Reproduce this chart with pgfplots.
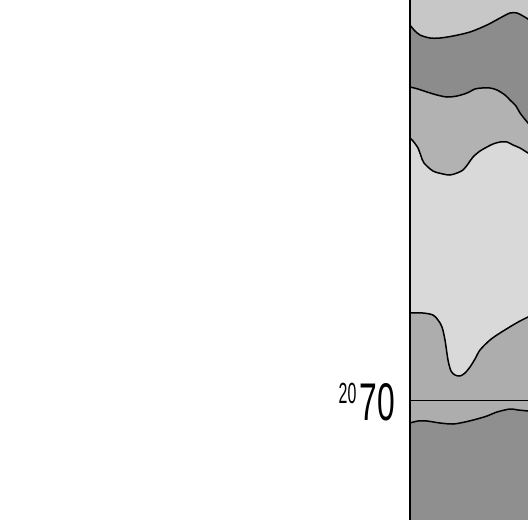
\documentclass[border=0pt]{standalone}
\usepackage{pgfplots}
\pgfplotsset{compat=1.18}
\usepackage{graphicx}
\usepackage{fontspec}
\setmainfont{Liberation Sans}
\definecolor{gTop}{gray}{0.78}
\definecolor{gDark}{gray}{0.55}
\definecolor{gMid}{gray}{0.70}
\definecolor{gLight}{gray}{0.85}
\definecolor{gMid2}{gray}{0.68}
\definecolor{gBot}{gray}{0.56}
\begin{document}
\begin{tikzpicture}
\begin{axis}[
  scale only axis, width=528pt, height=520pt,
  xmin=0, xmax=528, ymin=0, ymax=520, y dir=reverse,
  axis line style={draw=none}, ticks=none,
]
% bottom layer: whole panel
\addplot[fill=gBot, draw=none] coordinates {(410,520) (533,520)} \closedcycle;
% above curve 5
\addplot[fill=gMid2, draw=none, smooth] coordinates {
(410,423)(418,421)(427,421)(440,423)(453,424)(465,422)(477,419)(487,416)(497,412)(510,409)(518,410)(528,411)(533,412)} \closedcycle;
% above curve 4
\addplot[fill=gLight, draw=none, smooth] coordinates {
(410,313)(423,313)(433,315)(438,320)(442,327)(445,340)(448,360)(451,371)(455,375)(460,376)(465,373)(470,367)(475,359)(480,350)(490,340)(500,333)(513,325)(520,321)(528,317)(533,314)} \closedcycle;
% above curve 3
\addplot[fill=gMid, draw=none, smooth] coordinates {
(410,138)(413,141)(418,148)(421,156)(424,163)(433,171)(443,174)(450,175)(457,173)(463,170)(468,164)(473,157)(480,151)(487,147)(493,144)(500,142)(507,142)(513,145)(520,148)(528,153)(533,156)} \closedcycle;
% above curve 2
\addplot[fill=gDark, draw=none, smooth] coordinates {
(410,87)(418,89)(427,92)(437,95)(447,97)(457,96)(467,93)(475,89)(482,88)(490,88)(497,90)(505,95)(510,100)(516,106)(520,113)(528,123)(533,128)} \closedcycle;
% above curve 1
\addplot[fill=gTop, draw=none, smooth] coordinates {
(410,25)(414,30)(420,35)(430,38)(440,38)(453,36)(470,32)(487,25)(500,18)(510,13)(517,13)(523,16)(528,19)(533,23)} \closedcycle;
% boundary lines
\addplot[black, line width=1.5pt, smooth] coordinates {
(410,25)(414,30)(420,35)(430,38)(440,38)(453,36)(470,32)(487,25)(500,18)(510,13)(517,13)(523,16)(528,19)(533,23)};
\addplot[black, line width=1.5pt, smooth] coordinates {
(410,87)(418,89)(427,92)(437,95)(447,97)(457,96)(467,93)(475,89)(482,88)(490,88)(497,90)(505,95)(510,100)(516,106)(520,113)(528,123)(533,128)};
\addplot[black, line width=1.5pt, smooth] coordinates {
(410,138)(413,141)(418,148)(421,156)(424,163)(433,171)(443,174)(450,175)(457,173)(463,170)(468,164)(473,157)(480,151)(487,147)(493,144)(500,142)(507,142)(513,145)(520,148)(528,153)(533,156)};
\addplot[black, line width=1.5pt, smooth] coordinates {
(410,313)(423,313)(433,315)(438,320)(442,327)(445,340)(448,360)(451,371)(455,375)(460,376)(465,373)(470,367)(475,359)(480,350)(490,340)(500,333)(513,325)(520,321)(528,317)(533,314)};
\addplot[black, line width=1.5pt, smooth] coordinates {
(410,423)(418,421)(427,421)(440,423)(453,424)(465,422)(477,419)(487,416)(497,412)(510,409)(518,410)(528,411)(533,412)};
% year line at 2070
\addplot[black, line width=0.9pt] coordinates {(410,400) (533,400)};
% vertical axis line
\addplot[black, line width=2.2pt] coordinates {(410,0) (410,520)};
\node[anchor=base east, inner sep=0pt] at (axis cs:395,420)
  {\fontsize{53}{53}\selectfont\raisebox{17pt}{\scalebox{0.3}[0.55]{20}}\hspace{3pt}\scalebox{0.6}[1]{70}};
\end{axis}
\end{tikzpicture}
\end{document}
